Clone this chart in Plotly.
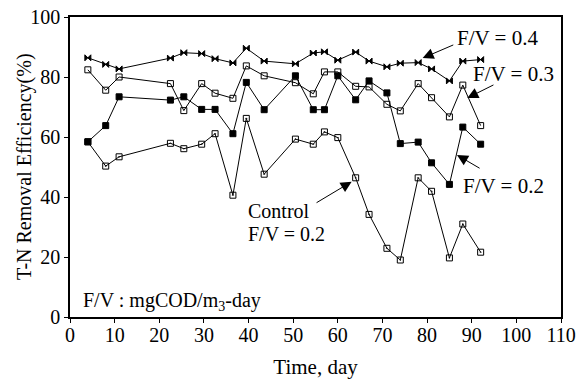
import plotly.graph_objects as go

days = [4, 8, 11, 22.5, 25.5, 29.5, 32.5, 36.5, 39.5, 43.5, 50.5, 54.5, 57, 60, 64, 67, 71, 74, 78, 81, 85, 88, 92]
fv04 = [86.4, 84.2, 82.7, 86.3, 88.1, 87.8, 86.1, 84.7, 89.6, 85.3, 84.4, 88.0, 88.4, 85.6, 88.3, 85.3, 83.4, 84.6, 84.8, 82.7, 78.7, 85.3, 85.8]
fv03 = [82.4, 75.6, 80.0, 77.8, 68.8, 77.8, 74.6, 72.9, 83.7, 80.4, 78.1, 74.4, 81.7, 81.7, 76.9, 76.7, 70.9, 68.7, 77.8, 73.1, 66.7, 77.3, 63.8]
fv02 = [58.4, 63.8, 73.4, 72.3, 73.4, 69.2, 69.2, 61.1, 78.2, 69.1, 80.4, 69.1, 69.1, 80.4, 72.4, 78.7, 74.7, 57.8, 58.3, 51.4, 44.2, 63.3, 57.6]
control = [58.4, 50.3, 53.4, 57.9, 56.1, 57.6, 61.1, 40.6, 66.2, 47.6, 59.3, 57.6, 61.7, 59.8, 46.4, 34.2, 22.9, 19.0, 46.4, 41.9, 19.7, 31.0, 21.6]

x_ticks = list(range(0, 111, 10))
y_ticks = list(range(0, 101, 20))

FONT = "Liberation Serif"
fig = go.Figure()

def add(y, sym, size):
    fig.add_trace(go.Scatter(
        x=days, y=y, mode="lines+markers",
        line=dict(color="black", width=1),
        marker=dict(symbol=sym, size=size, color="black", line=dict(color="black", width=1)),
        showlegend=False))

add(fv04, "bowtie", 6)
add(fv03, "square-open", 6)
add(control, "square-open-dot", 6)
add(fv02, "square", 6)

def label(x, y, text, size=21):
    fig.add_annotation(x=x, y=y, text=text, showarrow=False, xref="x", yref="y",
                       xanchor="left", yanchor="middle", align="left",
                       font=dict(family=FONT, size=size, color="black"))

def arrow(x, y, ax, ay):
    fig.add_annotation(x=x, y=y, ax=ax, ay=ay, xref="x", yref="y", axref="x", ayref="y",
                       text="", showarrow=True, arrowhead=2, arrowsize=2.2, arrowwidth=1,
                       arrowcolor="black")

label(86.3, 93.1, "F/V = 0.4")
arrow(79.0, 86.3, 86.2, 90.9)
label(89.9, 80.9, "F/V = 0.3")
arrow(89.0, 73.0, 95.2, 77.6)
label(87.6, 43.7, "F/V = 0.2")
arrow(86.7, 54.0, 92.1, 49.3)
label(39.5, 35.2, "Control", size=20)
label(39.5, 27.8, "F/V = 0.2", size=20)
arrow(63.1, 45.1, 54.9, 37.8)
label(2.4, 5.3, "F/V : mgCOD/m<sub>3</sub>-day", size=20)

# y-axis title placed as a rotated annotation (pixel-accurate position)
fig.add_annotation(xref="paper", yref="paper", x=(24 - 70) / 491, y=0.5,
                   text="T-N Removal Efficiency(%)", textangle=-90, showarrow=False,
                   xanchor="center", yanchor="middle",
                   font=dict(family=FONT, size=20, color="black"))

axis_common = dict(showline=True, linecolor="black", linewidth=1.5, mirror=True,
                   ticks="outside", ticklen=4, tickcolor="black", showgrid=False, zeroline=False,
                   automargin=False, ticklabeloverflow="allow",
                   tickfont=dict(family=FONT, size=20, color="black"))

fig.update_xaxes(range=[0, 110], tickvals=x_ticks, ticktext=[str(v) for v in x_ticks],
                 ticklabelstandoff=-5,
                 title=dict(text="Time, day", font=dict(family=FONT, size=21, color="black"), standoff=15),
                 **axis_common)
fig.update_yaxes(range=[0, 100], tickvals=y_ticks, ticktext=[str(v) for v in y_ticks],
                 **axis_common)

fig.update_layout(width=582, height=379, margin=dict(l=70, r=21, t=17, b=62),
                  plot_bgcolor="white", paper_bgcolor="white",
                  font=dict(family=FONT, color="black"))

fig.write_html("out.html", config={"displayModeBar": False},
               post_script="document.body.style.margin='0';")
